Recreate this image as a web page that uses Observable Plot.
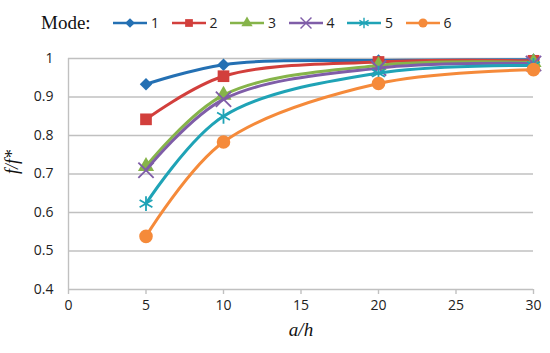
<!DOCTYPE html>
<html>
<head>
<meta charset="utf-8">
<script src="https://cdn.jsdelivr.net/npm/d3@7"></script>
<script src="https://cdn.jsdelivr.net/npm/@observablehq/plot@0.6"></script>
<style>
  html, body { margin: 0; padding: 0; background: #fff; }
  #legend { height: 40px; box-sizing: border-box; padding-top: 5px; padding-left: 41px; display: flex; align-items: center; }
  #legend .title { font-family: "Liberation Serif", serif; font-size: 19px; color: #111; width: 71px; }
  #legend .item { display: flex; align-items: center; width: 58.5px; }
  #legend .item span { font-family: "Open Sans", sans-serif; font-size: 14px; color: #222; margin-left: 3px; }
  #chart svg { display: block; }
</style>
</head>
<body>
<div id="legend"></div>
<div id="chart"></div>
<script>
const modes = ["1", "2", "3", "4", "5", "6"];
const xValues = [5, 10, 20, 30];
const mode1 = [0.933, 0.984, 0.995, 0.997];
const mode2 = [0.842, 0.954, 0.991, 0.994];
const mode3 = [0.720, 0.905, 0.982, 0.990];
const mode4 = [0.710, 0.894, 0.975, 0.987];
const mode5 = [0.623, 0.850, 0.962, 0.982];
const mode6 = [0.538, 0.783, 0.935, 0.971];
const xTicks = [0, 5, 10, 15, 20, 25, 30];
const yTicks = [0.4, 0.5, 0.6, 0.7, 0.8, 0.9, 1];
const colors = ["#2470b3", "#d23f3c", "#86b44a", "#7f5da8", "#1fa3b6", "#f58a3a"];
const symbols = ["diamond2", "square", "triangle", "times", "asterisk", "circle"];
const filled = [true, true, true, false, false, true];

const series = [mode1, mode2, mode3, mode4, mode5, mode6];
const data = [];
modes.forEach((m, i) => series[i].forEach((v, j) => data.push({mode: m, x: xValues[j], y: v})));

const grid = "#c0c0c0";
const marks = [
  Plot.ruleY(yTicks.filter(d => d > 0.4), {y: d => d, stroke: grid, strokeWidth: 1.4}),
  Plot.ruleX([0], {stroke: grid, strokeWidth: 1.4}),
  Plot.ruleY([0.4], {stroke: grid, strokeWidth: 1.4}),
  Plot.axisX({ticks: xTicks, tickSize: 5, stroke: grid, strokeWidth: 1.4, tickPadding: 6, fontSize: 14, fill: "#222", label: null, fontFamily: "Open Sans, sans-serif"}),
  Plot.axisY({ticks: yTicks, tickSize: 0, tickPadding: 15, fontSize: 14, fill: "#222", label: null, fontFamily: "Open Sans, sans-serif", tickFormat: d => String(+d.toFixed(1))}),
  Plot.text(["a/h"], {frameAnchor: "bottom", dy: 46, fontSize: 19, fontStyle: "italic", fontFamily: "Liberation Serif, serif", fill: "#111"}),
  Plot.text(["f/f*"], {frameAnchor: "left", dx: -56, rotate: -90, fontSize: 18, fontStyle: "italic", fontFamily: "Liberation Serif, serif", fill: "#111"})
];
const radii = [5.6, 6.6, 6, 7, 7, 6.8];
modes.forEach((m, i) => {
  const d = data.filter(r => r.mode === m);
  marks.push(Plot.line(d, {x: "x", y: "y", stroke: colors[i], strokeWidth: 3, curve: "catmull-rom"}));
  if (filled[i]) {
    marks.push(Plot.dot(d, {x: "x", y: "y", symbol: () => symbols[i], fill: colors[i], stroke: "none", r: radii[i]}));
  } else {
    marks.push(Plot.dot(d, {x: "x", y: "y", symbol: () => symbols[i], stroke: colors[i], strokeWidth: 1.8, fill: "none", r: radii[i]}));
  }
});

const chart = Plot.plot({
  width: 550,
  height: 313,
  marginLeft: 68,
  marginRight: 17,
  marginTop: 18,
  marginBottom: 64,
  x: {domain: [0, 30]},
  y: {domain: [0.4, 1]},
  symbol: {type: "identity"},
  style: {background: "#fff"},
  marks
});
document.getElementById("chart").appendChild(chart);

// legend
const legend = d3.select("#legend");
legend.append("div").attr("class", "title").text("Mode:");
const d3sym = {diamond2: d3.symbolDiamond2, square: d3.symbolSquare, triangle: d3.symbolTriangle, times: d3.symbolTimes, asterisk: d3.symbolAsterisk, circle: d3.symbolCircle};
const legSizes = [60, 60, 55, 80, 80, 65];
modes.forEach((m, i) => {
  const it = legend.append("div").attr("class", "item");
  const svg = it.append("svg").attr("width", 36).attr("height", 16);
  svg.append("line").attr("x1", 1).attr("x2", 35).attr("y1", 8).attr("y2", 8).attr("stroke", colors[i]).attr("stroke-width", 2.6);
  const p = svg.append("path").attr("transform", "translate(18,8)").attr("d", d3.symbol(d3sym[symbols[i]], legSizes[i])());
  if (filled[i]) p.attr("fill", colors[i]); else p.attr("fill", "none").attr("stroke", colors[i]).attr("stroke-width", 1.4);
  it.append("span").text(m);
});
</script>
</body>
</html>
